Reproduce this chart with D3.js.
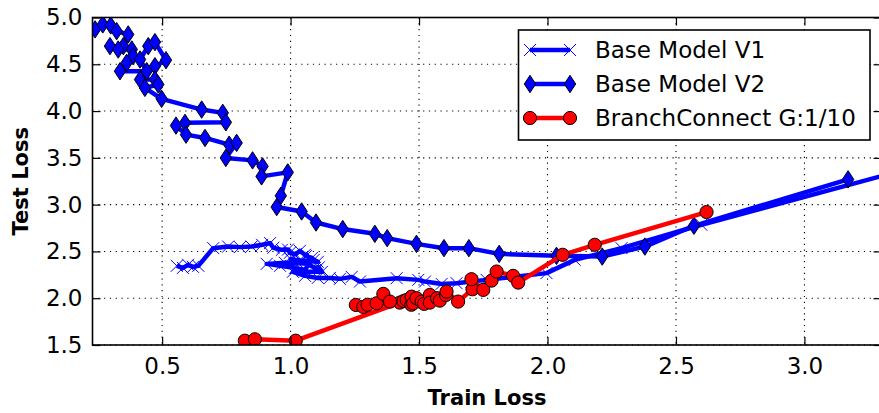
<!DOCTYPE html>
<html>
<head>
<meta charset="utf-8">
<script src="https://cdn.jsdelivr.net/npm/d3@7"></script>
<style>
  body { margin: 0; background: #fff; }
  svg { display: block; font-family: "DejaVu Sans", sans-serif; }
</style>
</head>
<body>
<div id="chart"></div>
<script>
// Base Model V1 (train loss, test loss)
const v1Train = [0.557, 0.581, 0.601, 0.620, 0.641, 0.699, 0.757, 0.803, 0.848, 0.889, 0.920, 0.933,
  0.966, 0.990, 0.997, 1.020, 1.036, 1.056, 1.060, 1.083, 1.090, 1.106, 1.040, 1.000, 1.075, 0.978,
  0.907, 0.959, 1.017, 1.056, 1.070, 1.095, 1.110, 1.122, 1.009, 1.056, 1.106, 1.153, 1.192, 1.238,
  1.270, 1.413, 1.497, 1.523, 1.588, 1.646, 1.704, 1.763, 1.996, 2.106, 2.288, 2.599, 3.320];
const v1Test = [2.346, 2.324, 2.357, 2.335, 2.346, 2.535, 2.552, 2.546, 2.552, 2.571, 2.589, 2.539,
  2.517, 2.520, 2.485, 2.470, 2.506, 2.464, 2.450, 2.431, 2.410, 2.389, 2.400, 2.420, 2.367, 2.378,
  2.367, 2.346, 2.324, 2.303, 2.360, 2.324, 2.330, 2.282, 2.282, 2.239, 2.217, 2.217, 2.207, 2.228,
  2.178, 2.214, 2.196, 2.178, 2.153, 2.161, 2.178, 2.196, 2.268, 2.410, 2.535, 2.785, 3.320];

// Base Model V2
const v2Train = [0.239, 0.269, 0.300, 0.323, 0.368, 0.349, 0.297, 0.329, 0.382, 0.387, 0.362, 0.336,
  0.440, 0.414, 0.446, 0.472, 0.515, 0.472, 0.414, 0.472, 0.485, 0.433, 0.498, 0.654, 0.736, 0.748,
  0.589, 0.554, 0.593, 0.667, 0.761, 0.790, 0.748, 0.852, 0.891, 0.887, 0.989, 0.962, 0.946, 1.043,
  1.099, 1.203, 1.328, 1.376, 1.490, 1.597, 1.694, 1.812, 2.035, 2.213, 2.379, 2.570, 3.170];
const v2Test = [4.873, 4.926, 4.915, 4.854, 4.819, 4.694, 4.694, 4.658, 4.658, 4.587, 4.516, 4.426,
  4.426, 4.551, 4.694, 4.737, 4.544, 4.480, 4.337, 4.337, 4.284, 4.248, 4.131, 4.016, 3.981, 3.880,
  3.874, 3.845, 3.748, 3.713, 3.641, 3.660, 3.499, 3.473, 3.409, 3.302, 3.345, 3.095, 2.974, 2.927,
  2.809, 2.739, 2.688, 2.642, 2.581, 2.535, 2.535, 2.474, 2.453, 2.445, 2.552, 2.774, 3.270];

// BranchConnect G:1/10
const bcTrain = [0.822, 0.861, 1.020, 1.425, 1.254, 1.283, 1.300, 1.335, 1.361, 1.387, 1.440, 1.452,
  1.470, 1.471, 1.477, 1.490, 1.510, 1.520, 1.542, 1.542, 1.570, 1.581, 1.605, 1.607, 1.652, 1.708,
  1.704, 1.750, 1.782, 1.802, 1.866, 1.886, 2.059, 2.184, 2.619];
const bcTest = [1.546, 1.561, 1.546, 1.953, 1.928, 1.907, 1.930, 1.946, 2.046, 1.964, 1.970, 1.982,
  1.930, 2.017, 1.946, 2.000, 1.964, 1.940, 2.035, 1.953, 2.000, 1.974, 2.035, 2.071, 1.964, 2.096,
  2.203, 2.089, 2.188, 2.285, 2.239, 2.167, 2.464, 2.571, 2.921];

const seriesNames = ['Base Model V1', 'Base Model V2', 'BranchConnect G:1/10'];
const xTicks = [0.5, 1.0, 1.5, 2.0, 2.5, 3.0];
const yTicks = [1.5, 2.0, 2.5, 3.0, 3.5, 4.0, 4.5, 5.0];

const W = 879, H = 413;
const pLeft = 92.5, pRight = 881.5, pTop = 17.5, pBottom = 345;

const svg = d3.select('#chart').append('svg')
  .attr('width', W).attr('height', H);

const x = d3.scaleLinear().domain([0.229, 3.3]).range([pLeft, pRight]);
const y = d3.scaleLinear().domain([1.5, 5.0]).range([pBottom, pTop]);

svg.append('clipPath').attr('id', 'plot-clip')
  .append('rect')
  .attr('x', pLeft).attr('y', pTop)
  .attr('width', pRight - pLeft).attr('height', pBottom - pTop);

// dotted grid
const grid = svg.append('g');
grid.selectAll('.gx').data(xTicks).enter().append('line')
  .attr('x1', d => x(d)).attr('x2', d => x(d))
  .attr('y1', pTop).attr('y2', pBottom);
grid.selectAll('.gy').data(yTicks).enter().append('line')
  .attr('x1', pLeft).attr('x2', pRight)
  .attr('y1', d => y(d)).attr('y2', d => y(d));
grid.selectAll('line')
  .attr('stroke', '#000')
  .attr('stroke-width', 1.1)
  .attr('stroke-dasharray', '1.2,4.6');

// series
const plot = svg.append('g').attr('clip-path', 'url(#plot-clip)');
const line = d3.line().x(d => x(d[0])).y(d => y(d[1]));

const v1 = d3.zip(v1Train, v1Test);
const v2 = d3.zip(v2Train, v2Test);
const bc = d3.zip(bcTrain, bcTest);

function crossPath(s) {
  return `M${-s},${-s}L${s},${s}M${-s},${s}L${s},${-s}`;
}
function diamondPath(w, h) {
  return `M0,${-h}L${w},0L0,${h}L${-w},0Z`;
}

// V1
plot.append('path').datum(v1)
  .attr('d', line).attr('fill', 'none')
  .attr('stroke', '#0000ff').attr('stroke-width', 4.5)
  .attr('stroke-linejoin', 'round');
plot.selectAll('.m1').data(v1).enter().append('path')
  .attr('transform', d => `translate(${x(d[0])},${y(d[1])})`)
  .attr('d', crossPath(6))
  .attr('stroke', '#0000ff').attr('stroke-width', 1).attr('fill', 'none');

// V2
plot.append('path').datum(v2)
  .attr('d', line).attr('fill', 'none')
  .attr('stroke', '#0000ff').attr('stroke-width', 4.5)
  .attr('stroke-linejoin', 'round');
plot.selectAll('.m2').data(v2).enter().append('path')
  .attr('transform', d => `translate(${x(d[0])},${y(d[1])})`)
  .attr('d', diamondPath(5.7, 8.7))
  .attr('fill', '#0000ff').attr('stroke', '#000').attr('stroke-width', 1);

// BranchConnect
plot.append('path').datum(bc)
  .attr('d', line).attr('fill', 'none')
  .attr('stroke', '#ff0000').attr('stroke-width', 4.5)
  .attr('stroke-linejoin', 'round');
plot.selectAll('.m3').data(bc).enter().append('circle')
  .attr('cx', d => x(d[0])).attr('cy', d => y(d[1]))
  .attr('r', 6.6)
  .attr('fill', '#ff0000').attr('stroke', '#000').attr('stroke-width', 1);

// axes, ticks inside on all sides
const axB = svg.append('g').attr('transform', `translate(0,${pBottom})`)
  .call(d3.axisBottom(x).tickValues(xTicks).tickSize(-8).tickPadding(13).tickFormat(d3.format('.1f')));
const axT = svg.append('g').attr('transform', `translate(0,${pTop})`)
  .call(d3.axisTop(x).tickValues(xTicks).tickSize(-8).tickFormat(''));
const axL = svg.append('g').attr('transform', `translate(${pLeft},0)`)
  .call(d3.axisLeft(y).tickValues(yTicks).tickSize(-8).tickPadding(10).tickFormat(d3.format('.1f')));
const axR = svg.append('g').attr('transform', `translate(${pRight},0)`)
  .call(d3.axisRight(y).tickValues(yTicks).tickSize(-8).tickFormat(''));

[axB, axT, axL, axR].forEach(a => {
  a.select('.domain').remove();
  a.selectAll('.tick line').attr('stroke', '#000').attr('stroke-width', 1.2);
  a.selectAll('.tick text')
    .attr('fill', '#000')
    .style('font-family', '"DejaVu Sans", sans-serif')
    .style('font-size', '23px');
});

// spines
svg.append('rect')
  .attr('x', pLeft).attr('y', pTop)
  .attr('width', pRight - pLeft).attr('height', pBottom - pTop)
  .attr('fill', 'none').attr('stroke', '#000').attr('stroke-width', 1.6);

// axis titles
svg.append('text')
  .attr('x', (pLeft + pRight) / 2).attr('y', 405)
  .attr('text-anchor', 'middle')
  .style('font-size', '21px').style('font-weight', 'bold')
  .text('Train Loss');

svg.append('text')
  .attr('transform', 'rotate(-90)')
  .attr('x', -(pTop + pBottom) / 2).attr('y', 28)
  .attr('text-anchor', 'middle')
  .style('font-size', '21px').style('font-weight', 'bold')
  .text('Test Loss');

// legend
const legend = svg.append('g');
legend.append('rect')
  .attr('x', 518.5).attr('y', 30)
  .attr('width', 351.5).attr('height', 110)
  .attr('fill', '#fff').attr('stroke', '#000').attr('stroke-width', 1.6);

const rowY = [50, 84, 118];
const colors = ['#0000ff', '#0000ff', '#ff0000'];
seriesNames.forEach((name, i) => {
  const g = legend.append('g').attr('transform', `translate(0,${rowY[i]})`);
  g.append('line')
    .attr('x1', 530).attr('x2', 570).attr('y1', 0).attr('y2', 0)
    .attr('stroke', colors[i]).attr('stroke-width', 4.5);
  [530, 570].forEach(mx => {
    if (i === 0) {
      g.append('path').attr('transform', `translate(${mx},0)`)
        .attr('d', crossPath(6)).attr('stroke', '#0000ff').attr('stroke-width', 1).attr('fill', 'none');
    } else if (i === 1) {
      g.append('path').attr('transform', `translate(${mx},0)`)
        .attr('d', diamondPath(5.7, 8.7)).attr('fill', '#0000ff').attr('stroke', '#000').attr('stroke-width', 1);
    } else {
      g.append('circle').attr('cx', mx).attr('cy', 0).attr('r', 6.6)
        .attr('fill', '#ff0000').attr('stroke', '#000').attr('stroke-width', 1);
    }
  });
  g.append('text')
    .attr('x', 595).attr('y', 0).attr('dy', '0.36em')
    .style('font-size', '23px')
    .text(name);
});
</script>
</body>
</html>
